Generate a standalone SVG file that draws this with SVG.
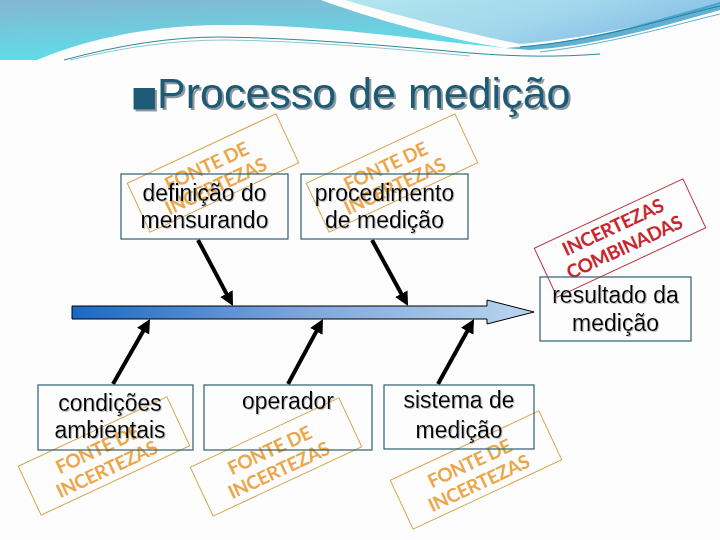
<svg xmlns="http://www.w3.org/2000/svg" width="720" height="540" viewBox="0 0 720 540">
  <defs>
    <linearGradient id="gMid" x1="0" y1="0" x2="0.3" y2="1">
      <stop offset="0" stop-color="#84b6d0"/>
      <stop offset="1" stop-color="#5cdfea"/>
    </linearGradient>
    <linearGradient id="gRight" x1="0" y1="0" x2="1" y2="0.4">
      <stop offset="0" stop-color="#b2e6ee"/>
      <stop offset="0.6" stop-color="#a2d6ec"/>
      <stop offset="1" stop-color="#86bfe6"/>
    </linearGradient>
    <linearGradient id="gSpine" x1="0" y1="0" x2="1" y2="0">
      <stop offset="0" stop-color="#1a68c4"/>
      <stop offset="0.5" stop-color="#7ea6dc"/>
      <stop offset="1" stop-color="#b9d6ef"/>
    </linearGradient>
    <filter id="shTitle" x="-5%" y="-20%" width="110%" height="140%">
      <feDropShadow dx="2" dy="2" stdDeviation="0.6" flood-color="#7f8e94" flood-opacity="0.9"/>
    </filter>
    <filter id="shText" x="-5%" y="-20%" width="110%" height="140%">
      <feDropShadow dx="1" dy="1" stdDeviation="0.5" flood-color="#999" flood-opacity="0.6"/>
    </filter>
    <marker id="head" markerUnits="userSpaceOnUse" markerWidth="16" markerHeight="16" refX="2" refY="0" viewBox="0 -8 16 16" orient="auto">
      <path d="M0,-7 L14,0 L0,7 Z" fill="#000"/>
    </marker>
    <style>
      .box { fill: none; stroke: #2d5f6e; stroke-width: 1.2; }
      .lbl { font-family: "Liberation Sans", Arial, sans-serif; font-size: 23px; fill: #000; text-anchor: middle; filter: url(#shText); }
      .frame { fill: none; stroke: #d6a44e; stroke-width: 1; }
      .frameR { fill: none; stroke: #b8323f; stroke-width: 1; }
      .st { font-family: Lato, "Open Sans", sans-serif; font-weight: bold; font-size: 19px; letter-spacing: -0.4px; fill: #e8962a; fill-opacity: 0.85; text-anchor: middle; }
      .stR { font-family: Lato, "Open Sans", sans-serif; font-weight: bold; font-size: 19px; letter-spacing: -0.4px; fill: #c8262e; text-anchor: middle; }
      .arr { stroke: #000; stroke-width: 4; fill: none; marker-end: url(#head); }
    </style>
  </defs>

  <rect width="720" height="540" fill="#fdfdfd"/>

  <!-- top decoration -->
  <g id="decoration">
    <path d="M0,0 L321,0 C370,18 440,38 505,48 C420,40 320,24 220,25 C140,26 80,42 37,60 L0,60 Z" fill="url(#gMid)"/>
    <path d="M345,0 L720,0 L720,4 C660,22 590,38 520,44 C460,32 400,16 345,0 Z" fill="url(#gRight)"/>
    <path d="M505,48 C580,44 650,22 720,2 L720,10 C650,30 590,46 530,50 Z" fill="#3a9cc4" opacity="0.8"/>
    <path d="M520,47 C600,40 660,20 720,6" fill="none" stroke="#1f7fa8" stroke-width="1"/>
    <path d="M540,52 C610,44 670,26 720,14" fill="none" stroke="#5ab4d4" stroke-width="1"/>
    <path d="M64,60 C120,45 170,37 220,37 C300,38 380,45 470,53 C520,57 560,57 600,54" fill="none" stroke="#2a8aa0" stroke-width="1"/>
    <path d="M70,60 C125,47 175,40 225,40 C305,41 385,48 470,56" fill="none" stroke="#8cc9d4" stroke-width="1"/>
  </g>

  <!-- title -->
  <text x="131" y="106" font-family="'DejaVu Sans', sans-serif" font-size="28" fill="#1a5a74" filter="url(#shTitle)">■<tspan x="157" y="108" font-family="'Liberation Sans', Arial, sans-serif" font-size="43">Processo de medição</tspan></text>

  <!-- uncertainty stamps -->
  <g id="stamp-definicao" transform="translate(213,173) rotate(-25)">
    <rect class="frame" x="-82" y="-27" width="164" height="54"/>
    <text class="st" x="-3" y="-2">FONTE DE</text>
    <text class="st" x="-3" y="20">INCERTEZAS</text>
  </g>
  <g id="stamp-procedimento" transform="translate(392,173) rotate(-25)">
    <rect class="frame" x="-82" y="-27" width="164" height="54"/>
    <text class="st" x="-3" y="-2">FONTE DE</text>
    <text class="st" x="-3" y="20">INCERTEZAS</text>
  </g>
  <g id="stamp-combinadas" transform="translate(620,238) rotate(-25)">
    <rect class="frameR" x="-82" y="-27" width="164" height="54"/>
    <text class="stR" x="-2" y="-6">INCERTEZAS</text>
    <text class="stR" x="0" y="17">COMBINADAS</text>
  </g>
  <g id="stamp-condicoes" transform="translate(104,456) rotate(-25)">
    <rect class="frame" x="-82" y="-27" width="164" height="54"/>
    <text class="st" x="-3" y="-2">FONTE DE</text>
    <text class="st" x="-3" y="20">INCERTEZAS</text>
  </g>
  <g id="stamp-operador" transform="translate(276,457) rotate(-25)">
    <rect class="frame" x="-82" y="-27" width="164" height="54"/>
    <text class="st" x="-3" y="-2">FONTE DE</text>
    <text class="st" x="-3" y="20">INCERTEZAS</text>
  </g>
  <g id="stamp-sistema" transform="translate(476,470) rotate(-25)">
    <rect class="frame" x="-82" y="-27" width="164" height="54"/>
    <text class="st" x="-3" y="-2">FONTE DE</text>
    <text class="st" x="-3" y="20">INCERTEZAS</text>
  </g>

  <!-- connectors -->
  <g id="connectors">
    <path d="M72,306 H487 V300 L534,312 L487,324 V319 H72 Z" fill="url(#gSpine)" stroke="#000" stroke-width="1"/>
    <line class="arr" x1="198" y1="240" x2="227.4" y2="295.4"/>
    <line class="arr" x1="372" y1="240" x2="402.3" y2="295.5"/>
    <line class="arr" x1="113" y1="384" x2="144.1" y2="329.4"/>
    <line class="arr" x1="288" y1="384" x2="317.3" y2="329.6"/>
    <line class="arr" x1="438" y1="384" x2="468.2" y2="329.5"/>
  </g>

  <!-- nodes -->
  <g id="node-definicao">
    <rect class="box" x="121" y="174" width="167" height="65"/>
    <text class="lbl" x="204.5" y="201">definição do</text>
    <text class="lbl" x="204.5" y="228">mensurando</text>
  </g>
  <g id="node-procedimento">
    <rect class="box" x="301" y="174" width="167" height="65"/>
    <text class="lbl" x="384.5" y="201">procedimento</text>
    <text class="lbl" x="384.5" y="228">de medição</text>
  </g>
  <g id="node-resultado">
    <rect class="box" x="540" y="277" width="151" height="64"/>
    <text class="lbl" x="615.5" y="303">resultado da</text>
    <text class="lbl" x="615.5" y="331">medição</text>
  </g>
  <g id="node-condicoes">
    <rect class="box" x="38" y="385" width="155" height="65"/>
    <text class="lbl" x="110" y="411">condições</text>
    <text class="lbl" x="110" y="438">ambientais</text>
  </g>
  <g id="node-operador">
    <rect class="box" x="204" y="385" width="168" height="65"/>
    <text class="lbl" x="288" y="409">operador</text>
  </g>
  <g id="node-sistema">
    <rect class="box" x="384" y="385" width="150" height="64"/>
    <text class="lbl" x="459" y="408">sistema de</text>
    <text class="lbl" x="459" y="438">medição</text>
  </g>
</svg>
